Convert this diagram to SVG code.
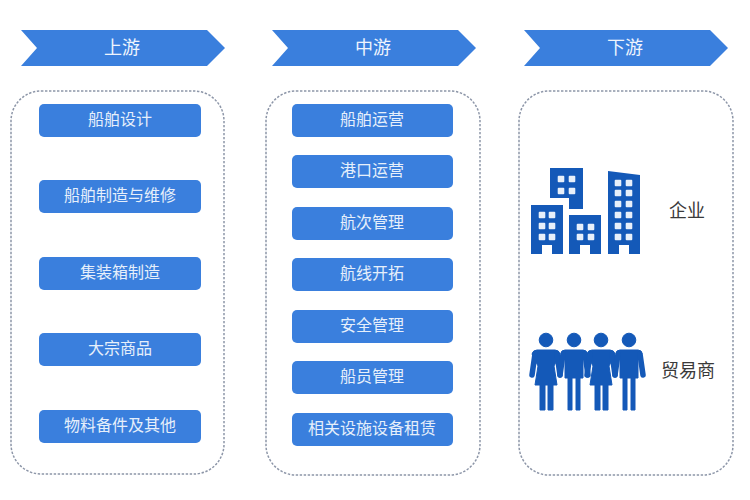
<svg xmlns="http://www.w3.org/2000/svg" width="750" height="500" viewBox="0 0 750 500">
<style>
text{font-family:"Noto Sans CJK SC","Noto Sans",sans-serif;text-anchor:middle}
.ch{fill:#3a7fdd}
.hd{fill:#eef4fd;font-size:18px}
.pn{fill:#fff;stroke:#8d96a8;stroke-width:1.5;stroke-dasharray:2.4 1.6}
.bt{fill:#3a7fdd}
.bl{fill:#e6effb;font-size:16px}
.dk{fill:#3a3a3a;font-size:18px}
.ic{fill:#1459b8}
.pp{fill:#1459b8;stroke:#1459b8;stroke-width:1;stroke-linejoin:round}
.wn{fill:#e8f0fa}
.lm{fill:none;stroke:#1459b8;stroke-width:5.500;stroke-linecap:round;stroke-linejoin:round}
</style>
<defs>
<rect id="w" class="wn" x="-3.300" y="-3.300" width="6.600" height="6.600" rx="1"/>
<path id="ch" class="ch" d="M0 0H186L204 18L186 36H0L16 18Z"/>
<g id="woman"><circle class="pp" r="6.800"/><path class="pp" d="M-9 10H9Q13 10 14 14L8 26L11 45H7V70H2V45H-1V70H-6V45H-11L-8 26L-14 14Q-13 10-9 10Z"/><path class="lm" d="M-11 14L-14 35M11 14L14 35"/></g>
<g id="man"><circle class="pp" r="6.800"/><path class="pp" d="M-9 10H9Q13 10 13 14L9 20V38H6V70H2V38H-2V70H-6V38H-9V20L-13 14Q-13 10-9 10Z"/><path class="lm" d="M-11 14L-14 35M11 14L14 35"/></g>
</defs>
<rect width="750" height="500" fill="#fff"/>
<g id="upstream-header"><use href="#ch" x="21" y="30"/><text class="hd" x="122" y="54">上游</text></g>
<g id="midstream-header"><use href="#ch" x="272" y="30"/><text class="hd" x="373" y="54">中游</text></g>
<g id="downstream-header"><use href="#ch" x="524" y="30"/><text class="hd" x="625" y="54">下游</text></g>
<g id="upstream-panel"><rect class="pn" x="11" y="91" width="213" height="383" rx="30"/></g>
<g id="midstream-panel"><rect class="pn" x="266" y="91" width="214" height="384" rx="30"/></g>
<g id="downstream-panel"><rect class="pn" x="519" y="91" width="214" height="384" rx="30"/></g>
<g id="u1"><rect class="bt" x="39" y="104" width="162" height="33" rx="5"/><text class="bl" x="120" y="124.500">船舶设计</text></g>
<g id="u2"><rect class="bt" x="39" y="180" width="162" height="33" rx="5"/><text class="bl" x="120" y="200.500">船舶制造与维修</text></g>
<g id="u3"><rect class="bt" x="39" y="257" width="162" height="33" rx="5"/><text class="bl" x="120" y="277.500">集装箱制造</text></g>
<g id="u4"><rect class="bt" x="39" y="333" width="162" height="33" rx="5"/><text class="bl" x="120" y="353.500">大宗商品</text></g>
<g id="u5"><rect class="bt" x="39" y="410" width="162" height="33" rx="5"/><text class="bl" x="120" y="430.500">物料备件及其他</text></g>
<g id="m1"><rect class="bt" x="292" y="104" width="161" height="33" rx="5"/><text class="bl" x="372" y="124.500">船舶运营</text></g>
<g id="m2"><rect class="bt" x="292" y="155" width="161" height="33" rx="5"/><text class="bl" x="372" y="175.500">港口运营</text></g>
<g id="m3"><rect class="bt" x="292" y="207" width="161" height="33" rx="5"/><text class="bl" x="372" y="227.500">航次管理</text></g>
<g id="m4"><rect class="bt" x="292" y="258" width="161" height="33" rx="5"/><text class="bl" x="372" y="278.500">航线开拓</text></g>
<g id="m5"><rect class="bt" x="292" y="310" width="161" height="33" rx="5"/><text class="bl" x="372" y="330.500">安全管理</text></g>
<g id="m6"><rect class="bt" x="292" y="361" width="161" height="33" rx="5"/><text class="bl" x="372" y="381.500">船员管理</text></g>
<g id="m7"><rect class="bt" x="292" y="413" width="161" height="33" rx="5"/><text class="bl" x="372" y="433.500">相关设施设备租赁</text></g>
<g id="enterprise">
<path class="ic" d="M550 168H583V209H569V198H550Z"/>
<path class="ic" d="M531 205H563V254H552V245H542V254H531Z"/>
<path class="ic" d="M569 215H601V254H590V245H580V254H569Z"/>
<path class="ic" d="M608 171L640 175V254H629V245H619V254H608Z"/>
<use href="#w" x="561" y="179"/><use href="#w" x="572" y="179"/><use href="#w" x="561" y="191"/><use href="#w" x="572" y="191"/>
<use href="#w" x="542" y="215"/><use href="#w" x="552" y="215"/><use href="#w" x="542" y="226"/><use href="#w" x="552" y="226"/><use href="#w" x="542" y="237"/><use href="#w" x="552" y="237"/>
<use href="#w" x="580" y="227"/><use href="#w" x="591" y="227"/><use href="#w" x="580" y="237"/><use href="#w" x="591" y="237"/>
<use href="#w" x="618" y="183"/><use href="#w" x="629" y="183"/><use href="#w" x="618" y="193"/><use href="#w" x="629" y="193"/><use href="#w" x="618" y="204"/><use href="#w" x="629" y="204"/><use href="#w" x="618" y="215"/><use href="#w" x="629" y="215"/><use href="#w" x="618" y="226"/><use href="#w" x="629" y="226"/><use href="#w" x="618" y="237"/><use href="#w" x="629" y="237"/>
<text class="dk" x="687" y="217">企业</text>
</g>
<g id="traders">
<use href="#woman" x="546" y="340"/>
<use href="#man" x="574" y="340"/>
<use href="#woman" x="601" y="340"/>
<use href="#man" x="629" y="340"/>
<text class="dk" x="688" y="377">贸易商</text>
</g>
<g id="connectors"/>
</svg>
